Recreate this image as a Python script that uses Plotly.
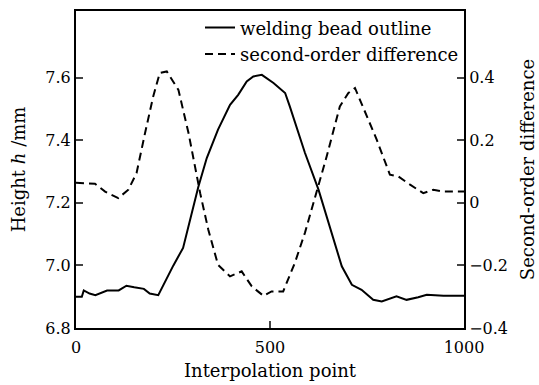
import plotly.graph_objects as go

# welding bead outline (left axis, Height h / mm)
x_outline = [0, 15, 20, 35, 50, 80, 110, 130, 150, 175, 190, 212, 251, 276, 315, 337, 366,
             397, 418, 440, 457, 479, 509, 539, 551, 590, 625, 685, 711, 736, 766, 788, 826,
             852, 882, 904, 947, 1000]
h_outline = [6.90, 6.90, 6.92, 6.91, 6.905, 6.92, 6.92, 6.935, 6.93, 6.925, 6.91, 6.905, 7.0,
             7.056, 7.25, 7.343, 7.434, 7.513, 7.545, 7.588, 7.604, 7.609, 7.583, 7.551, 7.508,
             7.36, 7.242, 6.997, 6.938, 6.922, 6.89, 6.885, 6.901, 6.89, 6.898, 6.906, 6.903,
             6.903]

# second-order difference (right axis)
x_diff = [0, 49, 75, 109, 135, 156, 178, 199, 216, 234, 264, 290, 320, 341, 366, 397, 427,
          453, 483, 504, 534, 564, 590, 620, 646, 680, 702, 719, 749, 775, 809, 831, 861,
          895, 921, 947, 981, 1000]
d_diff = [0.064, 0.061, 0.036, 0.015, 0.042, 0.095, 0.223, 0.34, 0.415, 0.42, 0.361, 0.223,
          0.031, -0.086, -0.198, -0.235, -0.219, -0.267, -0.297, -0.283, -0.283, -0.192,
          -0.096, 0.031, 0.148, 0.308, 0.351, 0.367, 0.281, 0.202, 0.09, 0.084, 0.058, 0.031,
          0.042, 0.036, 0.036, 0.036]

x_ticks = [0, 500, 1000]
y_ticks = [6.8, 7.0, 7.2, 7.4, 7.6]
y_ticklabels = ["6.8", "7.0", "7.2", "7.4", "7.6"]
y2_ticks = [-0.4, -0.2, 0, 0.2, 0.4]
y2_ticklabels = ["\u22120.4", "\u22120.2", "0", "0.2", "0.4"]

FONT = "DejaVu Serif"

fig = go.Figure()
fig.add_trace(go.Scatter(x=x_outline, y=h_outline, mode="lines", name="welding bead outline",
                         line=dict(color="black", width=2)))
fig.add_trace(go.Scatter(x=x_diff, y=d_diff, mode="lines", name="second-order difference",
                         yaxis="y2", line=dict(color="black", width=2, dash="8px,5px")))

fig.update_layout(
    width=539, height=385,
    margin=dict(l=76, r=75, t=11, b=57, autoexpand=False),
    paper_bgcolor="white", plot_bgcolor="white",
    font=dict(family=FONT, color="black", size=16),
    showlegend=True,
    legend=dict(x=1.0, y=1.005, xanchor="right", yanchor="top", bgcolor="rgba(0,0,0,0)",
                font=dict(size=18, family=FONT), tracegroupgap=0, borderwidth=0,
                itemwidth=30),
    xaxis=dict(range=[0, 1000], tickvals=x_ticks, ticks="inside", ticklen=7, tickwidth=1.5,
               showline=True, linecolor="black", linewidth=2, mirror=True, showgrid=False,
               zeroline=False, tickfont=dict(size=16), ticklabelstandoff=4, automargin=False,
               title=dict(text="Interpolation point", font=dict(size=18), standoff=8)),
    yaxis=dict(range=[6.8, 7.813], tickvals=y_ticks, ticktext=y_ticklabels, ticks="inside",
               ticklen=7, tickwidth=1.5, showline=True, linecolor="black", linewidth=2,
               showgrid=False, zeroline=False, tickfont=dict(size=16), automargin=False,
               title=dict(text="Height <i>h</i> /mm", font=dict(size=18), standoff=15)),
    yaxis2=dict(range=[-0.4, 0.613], tickvals=y2_ticks, ticktext=y2_ticklabels, ticks="inside",
                ticklen=7, tickwidth=1.5, showline=True, linecolor="black", linewidth=2,
                overlaying="y", side="right", showgrid=False, zeroline=False,
                tickfont=dict(size=16), automargin=False,
                title=dict(text="Second-order difference", font=dict(size=18), standoff=14)),
)

fig.write_html("out.html")
